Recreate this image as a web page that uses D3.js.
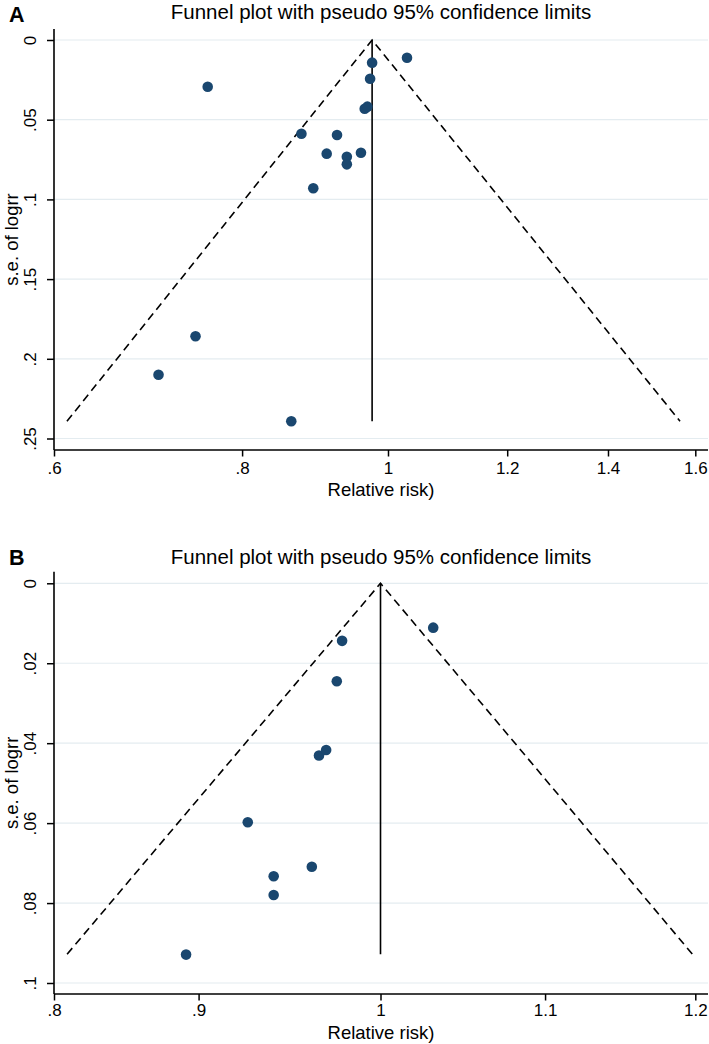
<!DOCTYPE html>
<html>
<head>
<meta charset="utf-8">
<script src="https://cdn.jsdelivr.net/npm/d3@7/dist/d3.min.js"></script>
<style>
  html, body { margin: 0; padding: 0; background: #ffffff; }
  svg { display: block; font-family: "Liberation Sans", Arial, Helvetica, sans-serif; }
</style>
</head>
<body>
<svg id="chart" width="709" height="1044"></svg>
<script>
// ---------------- Data ----------------
const titleText = "Funnel plot with pseudo 95% confidence limits";
const xTitle = "Relative risk)";
const yTitle = "s.e. of logrr";

// Panel A
const rrA = [0.759, 0.876, 0.925, 0.9105, 0.939, 0.939, 0.892, 0.9595, 0.976, 1.0295, 0.973, 0.965, 0.969, 0.745, 0.704, 0.8625];
const seA = [0.0293, 0.0588, 0.0596, 0.0713, 0.0732, 0.0780, 0.0930, 0.0707, 0.0142, 0.0111, 0.0243, 0.0431, 0.0418, 0.1859, 0.2100, 0.2392];
const xTicksA = [0.6, 0.8, 1, 1.2, 1.4, 1.6];
const yTicksA = [0, 0.05, 0.1, 0.15, 0.2, 0.25];
const pooledA = 0.976, seMaxA = 0.2392, lowerA = 0.612, upperA = 1.563;

// Panel B
const rrB = [0.978, 1.031, 0.975, 0.965, 0.969, 0.926, 0.940, 0.940, 0.961, 0.8935];
const seB = [0.0144, 0.0111, 0.0245, 0.0431, 0.0417, 0.0598, 0.0733, 0.0780, 0.0709, 0.0929];
const xTicksB = [0.8, 0.9, 1, 1.1, 1.2];
const yTicksB = [0, 0.02, 0.04, 0.06, 0.08, 0.1];
const pooledB = 1.0, seMaxB = 0.0928, lowerB = 0.834, upperB = 1.198;

// ---------------- Drawing ----------------
const svg = d3.select("#chart");
const fmt = d => { let s = String(+d.toFixed(4)); return s.replace(/^0\./, "."); };
const dotColor = "#1a476f";
const gridColor = "#e4ecf0";

function panel(cfg) {
  const g = svg.append("g");
  const x = d3.scaleLog().domain(cfg.xDomain).range([cfg.left, cfg.xEnd]).clamp(true);
  const y = d3.scaleLinear().domain(cfg.yDomain).range([cfg.y0, cfg.y1]);

  // panel letter
  g.append("text").attr("x", 9).attr("y", cfg.letterY)
    .attr("font-size", 21.5).attr("font-weight", "bold").attr("fill", "#000")
    .text(cfg.letter);

  // title
  g.append("text").attr("x", (cfg.left + cfg.right) / 2).attr("y", cfg.titleY)
    .attr("text-anchor", "middle").attr("font-size", 20.5).attr("fill", "#000")
    .text(titleText);

  // gridlines
  g.append("g").selectAll("line").data(cfg.yTicks).join("line")
    .attr("x1", cfg.left).attr("x2", cfg.right)
    .attr("y1", d => y(d)).attr("y2", d => y(d))
    .attr("stroke", gridColor).attr("stroke-width", 1.2);

  // funnel: dashed limits
  const dash = [[cfg.lower, cfg.seMax], [cfg.pooled, 0], [cfg.upper, cfg.seMax]];
  g.append("path").datum(dash)
    .attr("d", d3.line().x(d => x(d[0])).y(d => y(d[1])))
    .attr("fill", "none").attr("stroke", "#000").attr("stroke-width", 1.6)
    .attr("stroke-dasharray", "8,5");
  // vertical solid line at pooled estimate
  g.append("path").datum([[cfg.pooled, 0], [cfg.pooled, cfg.seMax]])
    .attr("d", d3.line().x(d => x(d[0])).y(d => y(d[1])))
    .attr("fill", "none").attr("stroke", "#000").attr("stroke-width", 1.6);

  // points
  g.append("g").selectAll("circle").data(cfg.rr.map((r, i) => [r, cfg.se[i]])).join("circle")
    .attr("cx", d => x(d[0])).attr("cy", d => y(d[1])).attr("r", 5.3)
    .attr("fill", dotColor);

  // x axis
  const xa = g.append("g").attr("transform", `translate(0,${cfg.bottom})`)
    .call(d3.axisBottom(x).tickValues(cfg.xTicks).tickFormat(fmt).tickSize(6.5).tickSizeOuter(0));
  xa.select(".domain").remove();
  xa.selectAll(".tick line").attr("stroke", "#000").attr("stroke-width", 1.5);
  xa.selectAll(".tick text").attr("y", cfg.xLabY).attr("dy", 0)
    .attr("font-size", 17).attr("fill", "#000").attr("font-family", null);
  g.append("line").attr("x1", cfg.left).attr("x2", cfg.right)
    .attr("y1", cfg.bottom).attr("y2", cfg.bottom).attr("stroke", "#000").attr("stroke-width", 1.6);

  // y axis
  const ya = g.append("g").attr("transform", `translate(${cfg.left},0)`)
    .call(d3.axisLeft(y).tickValues(cfg.yTicks).tickFormat(fmt).tickSize(7).tickSizeOuter(0));
  ya.select(".domain").remove();
  ya.selectAll(".tick line").attr("stroke", "#000").attr("stroke-width", 1.5);
  ya.selectAll(".tick text").attr("transform", "rotate(-90)")
    .attr("x", 0).attr("y", -18.5).attr("dy", 0).attr("text-anchor", "middle")
    .attr("font-size", 17).attr("fill", "#000").attr("font-family", null);
  g.append("line").attr("x1", cfg.left).attr("x2", cfg.left)
    .attr("y1", cfg.top).attr("y2", cfg.bottom).attr("stroke", "#000").attr("stroke-width", 1.6);

  // axis titles
  g.append("text").attr("x", (cfg.left + cfg.right) / 2).attr("y", cfg.xTitleY)
    .attr("text-anchor", "middle").attr("font-size", 18.5).attr("fill", "#000").text(xTitle);
  g.append("text").attr("transform", `translate(17.5,${(cfg.top + cfg.bottom) / 2}) rotate(-90)`)
    .attr("text-anchor", "middle").attr("font-size", 18.5).attr("fill", "#000").text(yTitle);
}

panel({
  letter: "A", letterY: 22, titleY: 18.5,
  rr: rrA, se: seA, xTicks: xTicksA, yTicks: yTicksA,
  pooled: pooledA, seMax: seMaxA, lower: lowerA, upper: upperA,
  xDomain: [0.6, 1.6], yDomain: [0, 0.25],
  left: 54, right: 708, xEnd: 695.3, top: 29, bottom: 450, y0: 40, y1: 438.5,
  xLabY: 24, xTitleY: 495.5
});

panel({
  letter: "B", letterY: 565, titleY: 563.5,
  rr: rrB, se: seB, xTicks: xTicksB, yTicks: yTicksB,
  pooled: pooledB, seMax: seMaxB, lower: lowerB, upper: upperB,
  xDomain: [0.8277, 1.2], yDomain: [0, 0.1],
  left: 54, right: 708, xEnd: 695.3, top: 571.7, bottom: 994, y0: 583.3, y1: 983,
  xLabY: 22, xTitleY: 1038.5
});
</script>
</body>
</html>
